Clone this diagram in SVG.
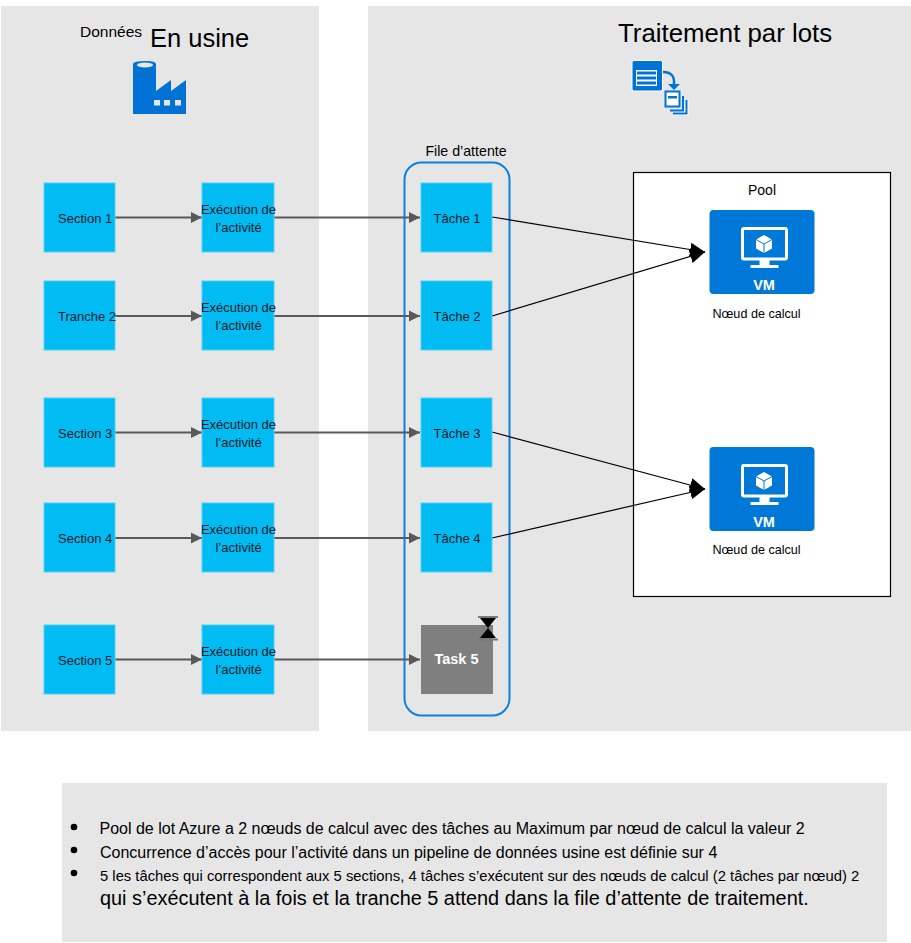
<svg xmlns="http://www.w3.org/2000/svg" width="911" height="943" viewBox="0 0 911 943">
<defs>
<style>
text{font-family:"Liberation Sans",Arial,sans-serif;fill:#000}
.s{font-size:13px;fill:#0a1a2a}
.c{text-anchor:middle}
.b{fill:#00bcf2;stroke:#4fd0f5;stroke-width:1}
.g{fill:#e6e6e6}
.l{stroke:#595959;stroke-width:2;fill:none;marker-end:url(#a)}
.k{stroke:#000;stroke-width:1.2;fill:none;marker-end:url(#k)}
</style>
<marker id="a" markerUnits="userSpaceOnUse" markerWidth="12" markerHeight="12" refX="11" refY="6" orient="auto"><path d="M0 0.500L11 6L0 11.500Z" fill="#595959"/></marker>
<marker id="k" markerUnits="userSpaceOnUse" markerWidth="16" markerHeight="16" refX="15" refY="8" orient="auto"><path d="M0 1L15 8L0 15Z" fill="#000"/></marker>
<g id="vmicon">
<rect x="0" y="0" width="105" height="84" rx="4" fill="#0078d7"/>
<rect x="33" y="18.500" width="44" height="30.500" rx="1.500" fill="none" stroke="#fff" stroke-width="3"/>
<path d="M54.500 25L62.500 29.500V38.500L54.500 43L46.500 38.500V29.500Z" fill="#fff"/>
<path d="M46.500 29.500L54.500 34L62.500 29.500M54.500 34V43" stroke="#0078d7" stroke-width="1" fill="none"/>
<path d="M50 50H60V55H69V58H41V55H50Z" fill="#fff"/>
<text x="54.500" y="79.500" class="c" font-size="14.500" font-weight="bold" style="fill:#fff">VM</text>
</g>
</defs>
<rect width="911" height="943" fill="#fff"/>
<rect class="g" x="1" y="6" width="318" height="725"/>
<rect class="g" x="368" y="6" width="543" height="725"/>
<rect class="g" x="62" y="783" width="825" height="159"/>
<g id="titles">
<text x="80" y="37" font-size="15.500">Données</text>
<text x="150" y="46.500" font-size="25.500">En usine</text>
<text x="618" y="42" font-size="25.800">Traitement par lots</text>
</g>
<g id="factory-icon">
<path d="M133 114V64Q133 61 146 61Q156 61 156 64V91L171 80V91L186 80V114Z" fill="#0072d6"/>
<ellipse cx="145" cy="65" rx="8" ry="2.500" fill="#e6e6e6"/>
<rect x="154" y="100" width="6" height="5.500" fill="#e6e6e6"/><rect x="164" y="100" width="6" height="5.500" fill="#e6e6e6"/><rect x="175" y="100" width="6" height="5.500" fill="#e6e6e6"/>
</g>
<g id="batch-icon">
<rect x="632" y="60.500" width="30.500" height="30.500" rx="2" fill="#0072d6" stroke="#fff"/>
<rect x="636" y="70" width="21" height="16" fill="#fff"/>
<path d="M637 73H656M637 78H656M637 83H656" stroke="#0072d6" stroke-width="3"/>
<path d="M663 72Q675 72 674 84" fill="none" stroke="#0072d6" stroke-width="2.500"/>
<path d="M668 84H680L674 90Z" fill="#0072d6"/>
<path d="M673 113.500H686.500V100" fill="none" stroke="#fff" stroke-width="4"/>
<path d="M673 113.500H686.500V100" fill="none" stroke="#0072d6" stroke-width="2"/>
<path d="M670 110.500H683V96" fill="none" stroke="#0072d6" stroke-width="2"/>
<rect x="665.500" y="91.500" width="14" height="15" fill="#fff" stroke="#0072d6" stroke-width="2"/>
<rect x="668" y="96" width="9" height="2.500" fill="#0072d6"/>
</g>
<g id="queue"><rect x="404.500" y="162.500" width="105" height="553" rx="17" fill="none" stroke="#0f7fdc" stroke-width="2"/><text x="466" y="156" class="c" font-size="14.200">File d’attente</text></g>
<g id="pool"><rect x="633.500" y="172.500" width="257" height="424" fill="#fff" stroke="#000" stroke-width="1.200"/><text x="762" y="195" class="c" font-size="14">Pool</text></g>
<g id="connectors">
<path class="l" d="M115 217.500H202"/><path class="l" d="M274 217.500H420"/>
<path class="l" d="M115 316H202"/><path class="l" d="M274 316H420"/>
<path class="l" d="M115 432.500H202"/><path class="l" d="M274 432.500H420"/>
<path class="l" d="M115 538H202"/><path class="l" d="M274 538H420"/>
<path class="l" d="M115 659.500H202"/><path class="l" d="M274 659.500H420"/>
<path class="k" d="M492 217L705 252"/><path class="k" d="M492 316L705 252"/>
<path class="k" d="M492 432L705 489"/><path class="k" d="M492 538L705 489"/>
</g>
<g id="section1"><rect class="b" x="44" y="183" width="71" height="69"/><text class="s" x="58" y="223">Section 1</text></g>
<g id="section2"><rect class="b" x="44" y="281" width="71" height="69"/><text class="s" x="58" y="321">Tranche 2</text></g>
<g id="section3"><rect class="b" x="44" y="398" width="71" height="69"/><text class="s" x="58" y="438">Section 3</text></g>
<g id="section4"><rect class="b" x="44" y="503" width="71" height="69"/><text class="s" x="58" y="543">Section 4</text></g>
<g id="section5"><rect class="b" x="44" y="625" width="71" height="69"/><text class="s" x="58" y="665">Section 5</text></g>
<g id="run1"><rect class="b" x="202" y="183" width="72" height="69"/><text class="s c" x="238.500" y="214">Exécution de</text><text class="s c" x="238.500" y="232">l’activité</text></g>
<g id="run2"><rect class="b" x="202" y="281" width="72" height="69"/><text class="s c" x="238.500" y="312">Exécution de</text><text class="s c" x="238.500" y="330">l’activité</text></g>
<g id="run3"><rect class="b" x="202" y="398" width="72" height="69"/><text class="s c" x="238.500" y="429">Exécution de</text><text class="s c" x="238.500" y="447">l’activité</text></g>
<g id="run4"><rect class="b" x="202" y="503" width="72" height="69"/><text class="s c" x="238.500" y="534">Exécution de</text><text class="s c" x="238.500" y="552">l’activité</text></g>
<g id="run5"><rect class="b" x="202" y="625" width="72" height="69"/><text class="s c" x="238.500" y="656">Exécution de</text><text class="s c" x="238.500" y="674">l’activité</text></g>
<g id="task1"><rect class="b" x="421" y="183" width="71" height="69"/><text class="s c" x="457" y="223">Tâche 1</text></g>
<g id="task2"><rect class="b" x="421" y="281" width="71" height="69"/><text class="s c" x="457" y="321">Tâche 2</text></g>
<g id="task3"><rect class="b" x="421" y="398" width="71" height="69"/><text class="s c" x="457" y="438">Tâche 3</text></g>
<g id="task4"><rect class="b" x="421" y="503" width="71" height="69"/><text class="s c" x="457" y="543">Tâche 4</text></g>
<g id="task5"><rect x="421" y="625" width="72" height="69" fill="#7f7f7f"/><text class="c" x="456.500" y="664" font-size="14.500" font-weight="bold" style="fill:#fff">Task 5</text>
<path d="M478 617H498M478 639.500H498" stroke="#777" stroke-width="2"/><path d="M480 618H496L480 638H496Z" fill="#000"/></g>
<g id="vm1"><use href="#vmicon" x="709.500" y="210"/><text x="756.500" y="318" class="c" font-size="12.600">Nœud de calcul</text></g>
<g id="vm2"><use href="#vmicon" x="709.500" y="447"/><text x="756.500" y="554" class="c" font-size="12.600">Nœud de calcul</text></g>
<g id="notes">
<circle cx="74" cy="827" r="3.300"/><circle cx="74" cy="850" r="3.300"/><circle cx="74" cy="873" r="3.300"/>
<text x="99.500" y="834" font-size="16">Pool de lot Azure a 2 nœuds de calcul avec des tâches au Maximum par nœud de calcul la valeur 2</text>
<text x="100" y="858" font-size="16">Concurrence d’accès pour l’activité dans un pipeline de données usine est définie sur 4</text>
<text x="100" y="881" font-size="14.800">5 les tâches qui correspondent aux 5 sections, 4 tâches s’exécutent sur des nœuds de calcul (2 tâches par nœud) 2</text>
<text x="100" y="905" font-size="19.900">qui s’exécutent à la fois et la tranche 5 attend dans la file d’attente de traitement.</text>
</g>
</svg>
